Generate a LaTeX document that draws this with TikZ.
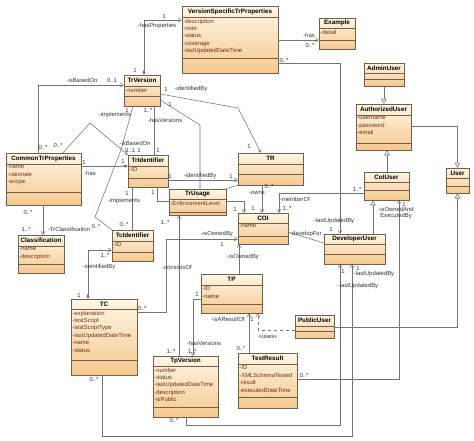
\documentclass[tikz,border=0pt]{standalone}
\usepackage{fontspec}
\setmainfont{Liberation Sans}
\usetikzlibrary{arrows.meta,shadows}

\definecolor{umltop}{RGB}{255,247,230}
\definecolor{umlbot}{RGB}{245,200,142}
\definecolor{umledge}{RGB}{115,95,75}
\definecolor{umlattr}{RGB}{115,45,20}
\definecolor{linegray}{RGB}{115,115,115}

% class box: name, left, top, right, bottom, 1st separator, 2nd separator, title, attributes
\newcommand{\umlclass}[9]{%
  \node[classbox, minimum width={(#4-#2)*1pt}, minimum height={(#5-#3)*1pt}] (#1) at ({(#2+#4)/2},{(#3+#5)/2}) {};
  \draw[classsep] (#2,#6) -- (#4,#6) (#2,#7) -- (#4,#7);
  \node[classname] (#1-name) at ({(#2+#4)/2},{(#3+#6)/2}) {#8};
  \node[classattr] (#1-attr) at (#2,#6) {#9};
}

\begin{document}
\begin{tikzpicture}[
  x=1pt, y=-1pt,
  classbox/.style={draw=umledge, line width=0.5pt, top color=umltop, bottom color=umlbot, inner sep=0pt,
    drop shadow={shadow xshift=1pt, shadow yshift=-1pt, fill=black!35, opacity=0.5}},
  classsep/.style={draw=umledge, line width=0.4pt},
  classname/.style={font=\bfseries\fontsize{6.3}{6.5}\selectfont, inner sep=0pt},
  classattr/.style={anchor=north west, align=left, font=\fontsize{5.9}{7.4}\selectfont, text=umlattr, inner xsep=1.2pt, inner ysep=1.6pt},
  lbl/.style={font=\fontsize{5.9}{6.2}\selectfont, text=black!80, inner sep=0pt},
  assoc/.style={draw=linegray, line width=0.55pt},
  navto/.style={-{Straight Barb[length=3pt,width=4pt]}},
  comp/.style={{Diamond[length=5pt,width=3pt]}-},
  compnav/.style={{Diamond[length=5pt,width=3pt]}-{Straight Barb[length=3pt,width=4pt]}},
  gen/.style={-{Triangle[open,length=5pt,width=5.5pt,fill=white]}},
]
\useasboundingbox (0,0) rectangle (474,440);

% classes
\umlclass{VSTP}{182}{6}{278}{73}{17}{58}{VersionSpecificTrProperties}{-description\\-note\\-status\\-coverage\\-lastUpdatedDateTime}
\umlclass{Example}{319}{18}{355}{49}{28}{40}{Example}{-detail}
\umlclass{AdminUser}{364}{63}{404}{86}{73}{79}{AdminUser}{}
\umlclass{AuthorizedUser}{356}{104}{411}{150}{115}{143}{AuthorizedUser}{-username\\-password\\-email}
\umlclass{TrVersion}{124}{75}{160}{106}{86}{96}{TrVersion}{-number}
\umlclass{CommonTrProperties}{6}{153}{81}{205}{164}{192}{CommonTrProperties}{-name\\-rationale\\-scope}
\umlclass{Classification}{18}{235}{64}{273}{246}{264}{Classification}{-name\\-description}
\umlclass{TrIdentifier}{128}{155}{168}{187}{166}{178}{TrIdentifier}{-ID}
\umlclass{TcIdentifier}{112}{230}{153}{261}{241}{252}{TcIdentifier}{-ID}
\umlclass{TR}{238}{153}{303}{185}{164}{174}{TR}{}
\umlclass{TrUsage}{169}{189}{226}{215}{199}{212}{TrUsage}{-EnforcementLevel}
\umlclass{COI}{238}{213}{288}{244}{223}{236}{COI}{-name}
\umlclass{TP}{201}{274}{262}{313}{285}{304}{TP}{-ID\\-name}
\umlclass{CoIUser}{364}{172}{409}{200}{182}{190}{CoIUser}{}
\umlclass{User}{446}{168}{469}{193}{178}{186}{User}{}
\umlclass{DeveloperUser}{324}{234}{385}{264}{244}{254}{DeveloperUser}{}
\umlclass{PublicUser}{295}{315}{334}{338}{326}{331}{PublicUser}{}
\umlclass{TC}{71}{299}{137}{375}{309}{360}{TC}{-explanation\\-testScript\\-testScriptType\\-lastUpdatedDateTime\\-name\\-status}
\umlclass{TpVersion}{153}{356}{218}{417}{366}{407}{TpVersion}{-number\\-status\\-lastUpdatedDateTime\\-description\\-isPublic}
\umlclass{TestResult}{238}{353}{297}{408}{364}{397}{TestResult}{-ID\\-XMLSchemaTested\\-result\\-executedDateTime}

% generalizations
\draw[assoc, gen] (AdminUser.south) -- (AuthorizedUser.north -| AdminUser.south);
\draw[assoc, gen] (AuthorizedUser.east |- 0,126) -| (User.north);
\draw[assoc, gen] (CoIUser.north -| 387,0) -- (AuthorizedUser.south -| 387,0);
\draw[assoc, gen] (DeveloperUser.north -| 373,0) -- (CoIUser.south -| 373,0);
\draw[assoc, gen] (PublicUser.east |- 0,327) -| (User.south);

% associations
\draw[assoc, compnav] (TrVersion.north -| 144,0) |- (VSTP.west |- 0,20);
\draw[assoc, navto] (VSTP.east |- 0,40) -- (Example.west |- 0,40);
\draw[assoc, navto] (VSTP.east |- 0,63) -| (DeveloperUser.north -| 340,0);
\draw[assoc, navto] (CoIUser.west |- 0,193) -| (COI.north -| 279,0);
\draw[assoc, navto] (TR.south -| 262,0) -- (COI.north -| 262,0);
\draw[assoc, navto] (TrIdentifier.east |- 0,180) -- (TR.west |- 0,180);
\draw[assoc] (TrIdentifier.south -| 157,0) |- (TrUsage.west |- 0,201);
\draw[assoc, navto] (TrUsage.east |- 0,201) -| (COI.north -| 244,0);
\draw[assoc] (TrUsage.north east) -- (TR.south west);
\draw[assoc] (TrVersion.east |- 0,100) -- (200,125) -- (TrUsage.north -| 200,0);
\draw[assoc, navto] (TrVersion.east |- 0,94) -- (238,108) -- (TR.north -| 261,0);
\draw[assoc] (TrVersion.south -| 154,0) -- (TrIdentifier.north -| 154,0);
\draw[assoc] (TrIdentifier.south -| 132,0) -- (TcIdentifier.north -| 132,0);
\draw[assoc, comp] (TrIdentifier.west |- 0,166) -- (CommonTrProperties.east |- 0,166);
\draw[assoc, navto] (CommonTrProperties.south -| 43,0) -- (Classification.north -| 43,0);
\draw[assoc, navto] (CommonTrProperties.north -| 38,0) |- (TrVersion.west |- 0,85);
\draw[assoc, navto] (CommonTrProperties.north -| 63,0) -- (90,123) -- (TrIdentifier.north west);
\draw[assoc] (TrVersion.south -| 133,0) -- (121,150) -- (95,217) -- (TcIdentifier.north west);
\draw[assoc, compnav] (TC.north -| 88,0) |- (TcIdentifier.west |- 0,250);
\draw[assoc, navto] (TC.east |- 0,312) -| (166,239) -- (COI.west |- 0,239);
\draw[assoc, navto] (TpVersion.north -| 179,0) -- (TrUsage.south -| 179,0);
\draw[assoc, navto] (TP.west |- 0,299) -| (TpVersion.north -| 193,0);
\draw[assoc, navto] (TP.north -| 239,0) -- (COI.south -| 239,0);
\draw[assoc, navto] (TestResult.north -| 249,0) -- (TP.south -| 249,0);
\draw[assoc, dashed, navto] (PublicUser.west |- 0,330) -| (TP.south -| 258,0);
\draw[assoc, navto] (TestResult.east |- 0,379) -| (CoIUser.south -| 399,0);
\draw[assoc, navto] (TpVersion.south -| 186,0) |- (340,425) -- (DeveloperUser.south -| 340,0);
\draw[assoc, navto] (TC.south -| 102,0) |- (352,436) -- (DeveloperUser.south -| 352,0);
\draw[assoc] (COI.east |- 0,232) -- (DeveloperUser.west |- 0,243);

% role names and multiplicities
\node[lbl] (m1) at (135,70) {1};
\node[lbl] (r1) at (157,26) {-hasProperties};
\node[lbl] (m2) at (164,16) {1};
\node[lbl] (r2) at (309,35) {-has};
\node[lbl] (m3) at (310,45) {0..*};
\node[lbl] (m4) at (284,60) {0..*};
\node[lbl] (r3) at (334,221) {-lastUpdatedBy};
\node[lbl] (m5) at (331,229) {1};
\node[lbl] (m6) at (357,189) {1..*};
\node[lbl] (r4) at (295,199) {-memberOf};
\node[lbl] (m7) at (287,208) {1..*};
\node[lbl] (m8) at (269,186) {0..*};
\node[lbl] (r5) at (257,193) {-owns};
\node[lbl] (m9) at (253,208) {1};
\node[lbl] (m10) at (170,176) {1};
\node[lbl] (r6) at (200,176) {-identifiedBy};
\node[lbl] (m11) at (231,176) {1};
\node[lbl] (m12) at (153,192) {1};
\node[lbl] (m13) at (235,209) {1};
\node[lbl] (m14) at (170,104) {1};
\node[lbl] (m15) at (166,89) {1};
\node[lbl] (r7) at (191,89) {-identifiedBy};
\node[lbl] (m16) at (249,146) {1};
\node[lbl] (m17) at (148,110) {1..*};
\node[lbl] (r8) at (165,120) {-hasVersions};
\node[lbl] (m18) at (158,150) {1};
\node[lbl] (m19) at (127,110) {1};
\node[lbl] (r9) at (115,115) {-implements};
\node[lbl] (m20) at (96,226) {0..*};
\node[lbl] (m21) at (58,145) {0..*};
\node[lbl] (r10) at (135,143) {-isBasedOn};
\node[lbl] (m22) at (130,150) {0..1};
\node[lbl] (m23) at (139,150) {1};
\node[lbl] (m24) at (84,162) {1};
\node[lbl] (m25) at (123,161) {1};
\node[lbl] (r11) at (90,173) {-has};
\node[lbl] (r12) at (82,80) {-isBasedOn};
\node[lbl] (m26) at (112,80) {0..1};
\node[lbl] (m27) at (43,147) {0..*};
\node[lbl] (m28) at (28,212) {0..*};
\node[lbl] (m29) at (26,229) {1..*};
\node[lbl] (r13) at (69,229) {-TrClassification};
\node[lbl] (m30) at (127,193) {1};
\node[lbl] (r14) at (124,201) {-implements};
\node[lbl] (m31) at (124,224) {0..*};
\node[lbl] (m32) at (105,255) {1..*};
\node[lbl] (r15) at (99,267) {-identifiedBy};
\node[lbl] (m33) at (79,295) {1};
\node[lbl] (m34) at (142,308) {0..*};
\node[lbl] (r16) at (217,234) {-isOwnedBy};
\node[lbl] (m35) at (222,244) {1};
\node[lbl] (m36) at (165,222) {1..*};
\node[lbl] (r17) at (177,267) {-consistsOf};
\node[lbl] (m37) at (171,351) {1..*};
\node[lbl] (m38) at (197,294) {1};
\node[lbl] (r18) at (204,343) {-hasVersions};
\node[lbl] (m39) at (192,351) {1..*};
\node[lbl] (r19) at (243,257) {-isOwnedBy};
\node[lbl] (r20) at (228,319) {-isAResultOf};
\node[lbl] (m40) at (252,319) {1};
\node[lbl] (m41) at (241,348) {0..*};
\node[lbl] (r21) at (268,337) {«uses»};
\node[lbl] (m42) at (304,375) {0..*};
\node[lbl] (m43) at (404,204) {1};
\node[lbl] (r22) at (396,209) {-isOwnedAnd};
\node[lbl] (r23) at (396,216) {ExecutedBy};
\node[lbl] (m44) at (174,420) {0..*};
\node[lbl] (m45) at (343,271) {1};
\node[lbl] (r24) at (358,286) {-lastUpdatedBy};
\node[lbl] (m46) at (94,379) {0..*};
\node[lbl] (m47) at (358,268) {1};
\node[lbl] (r25) at (374,274) {-lastUpdatedBy};
\node[lbl] (r26) at (306,234) {-developFor};
\end{tikzpicture}
\end{document}
